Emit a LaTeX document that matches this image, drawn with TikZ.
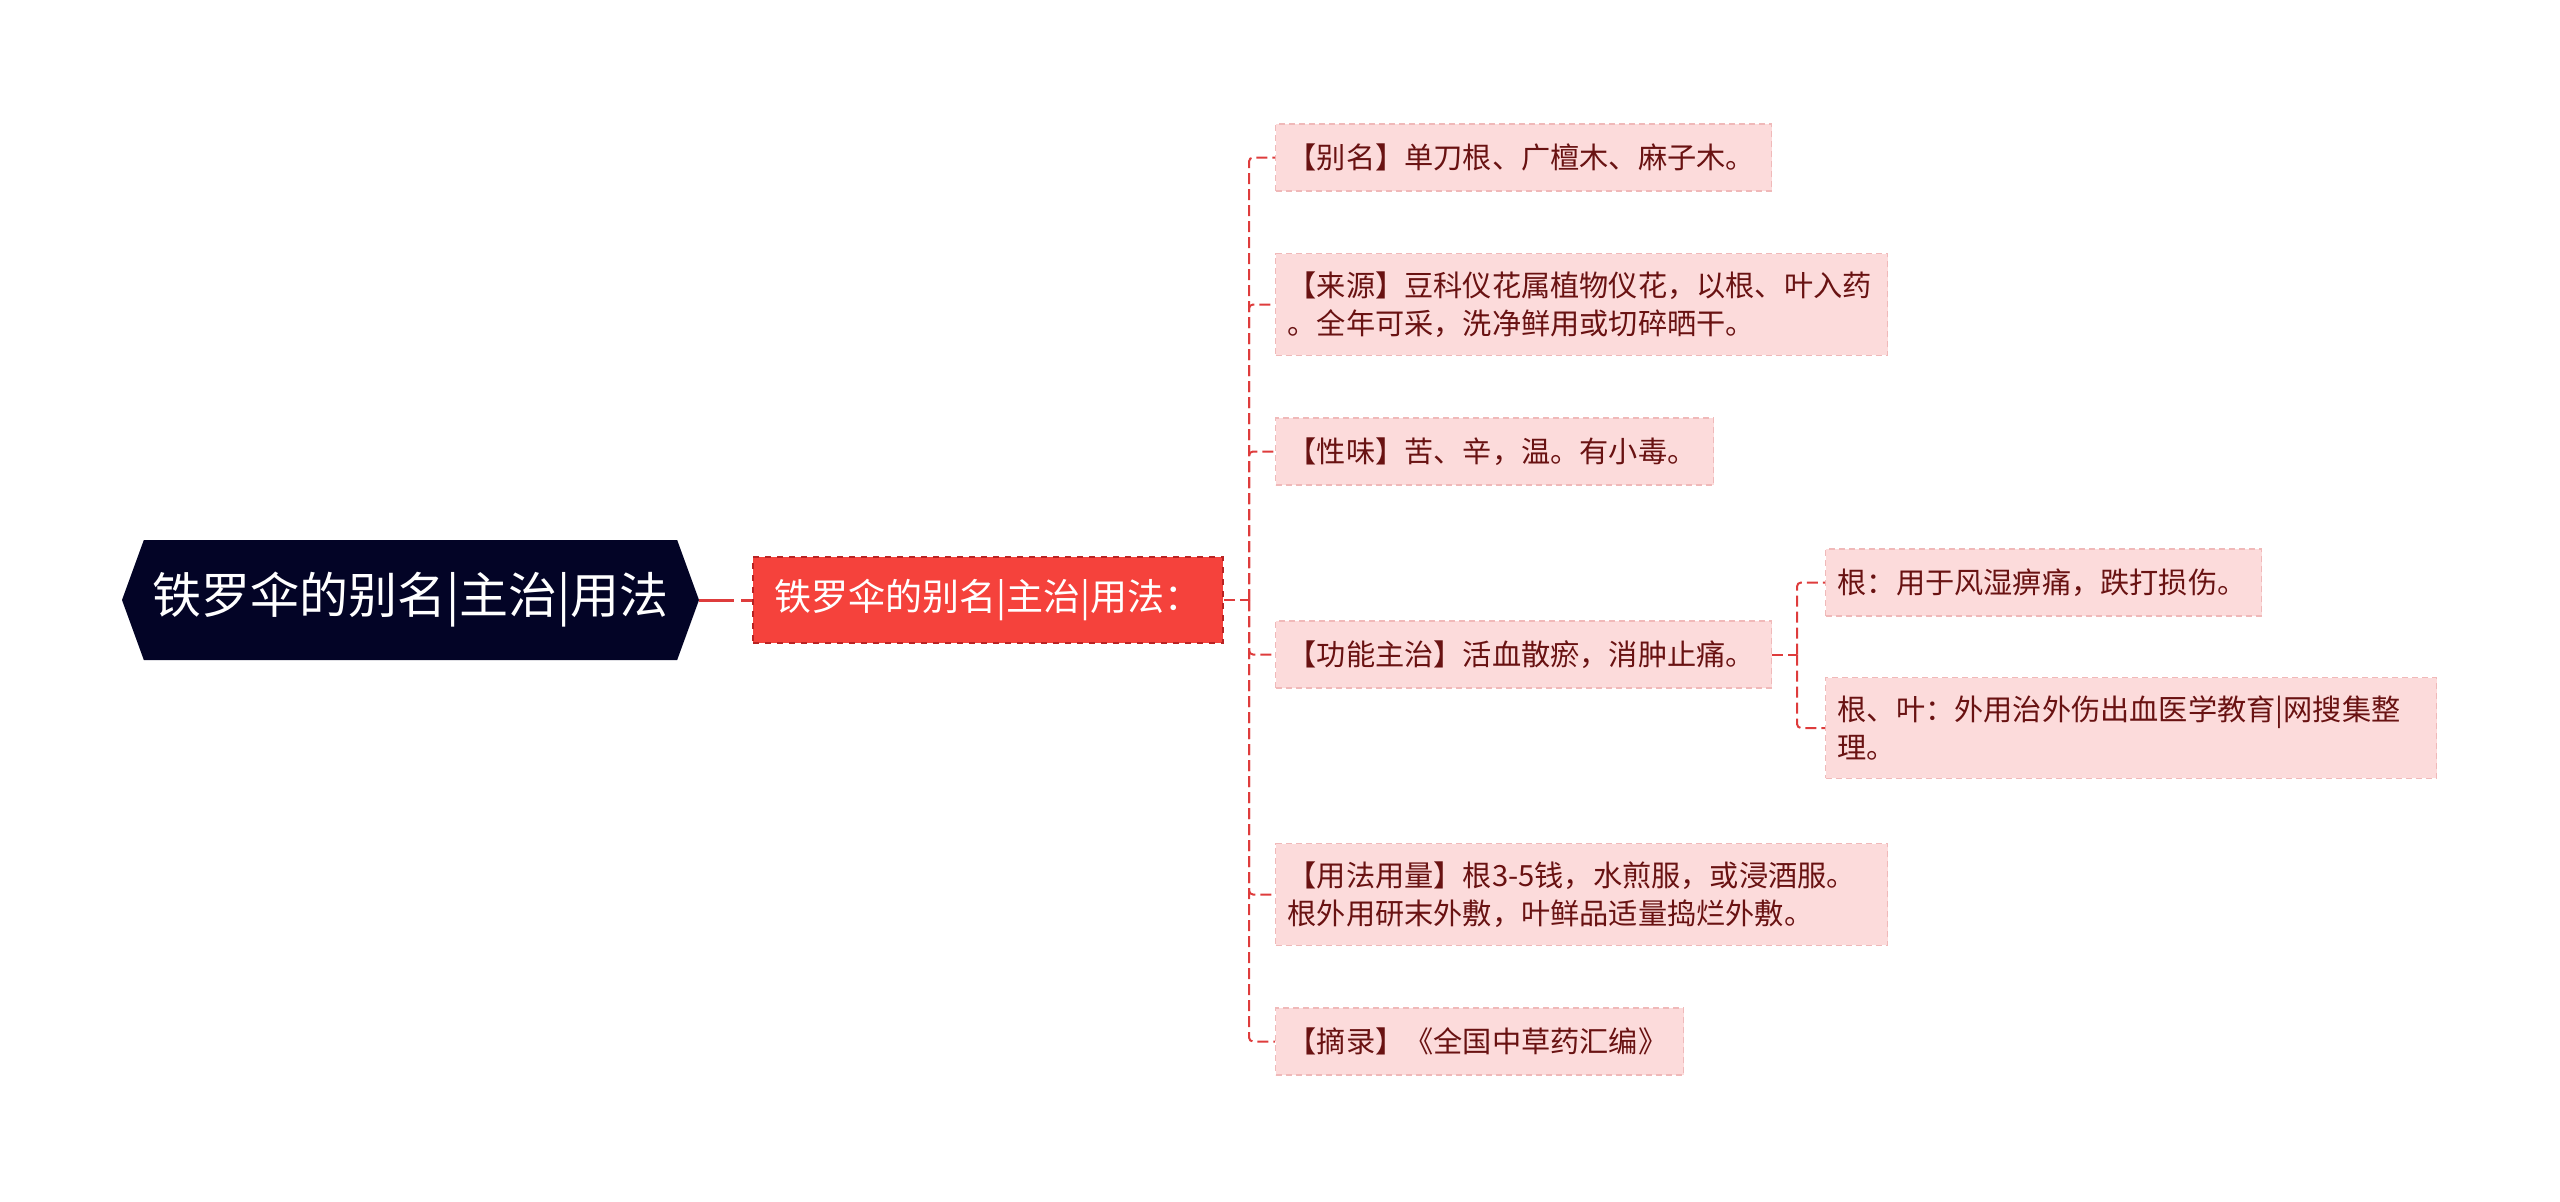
\documentclass[tikz,border=0pt]{standalone}
\usepackage{fontspec}
\setmainfont{Noto Sans CJK SC}
\usepackage{xcolor}
\usetikzlibrary{shapes.symbols, positioning}
\definecolor{rootbg}{RGB}{3,4,38}
\definecolor{topicred}{RGB}{245,66,60}
\definecolor{topicedge}{RGB}{185,35,35}
\definecolor{leafbg}{RGB}{252,219,219}
\definecolor{leafedge}{RGB}{240,185,185}
\definecolor{leaftext}{RGB}{105,18,18}
\definecolor{linkred}{RGB}{222,60,60}

\begin{document}
\begin{tikzpicture}[x=0.5pt, y=-0.5pt,
    rootnode/.style={signal, signal to=west and east, signal pointer angle=140, fill=rootbg, text=white, font=\fontsize{24.5}{28}\selectfont, minimum width=288.5pt, minimum height=60pt, inner sep=0pt},
    topic/.style={rectangle, fill=topicred, draw=topicedge, dashed, line width=0.8pt, text=white, font=\fontsize{18.5}{22}\selectfont, minimum width=235pt, minimum height=43pt, inner sep=0pt},
    leaf/.style={rectangle, anchor=west, fill=leafbg, draw=leafedge, densely dashed, line width=0.7pt, text=leaftext, font=\fontsize{14.6}{19}\selectfont, align=left, inner xsep=6pt, inner ysep=9pt, minimum height=33.5pt},
    branch/.style={draw=linkred, line width=1pt, dash pattern=on 5.5pt off 2.5pt, rounded corners=2pt}]

    \useasboundingbox (0,0) rectangle (2560,1201);

    \node[rootnode] (root) at (410.5,600) {铁罗伞的别名|主治|用法};
    \node[topic] (topic) at (988,600) {铁罗伞的别名|主治|用法：};

    \node[leaf, text width=236pt] (alias) at (1275,157.5) {【别名】单刀根、广檀木、麻子木。};
    \node[leaf, text width=294pt] (source) at (1275,304.5) {【来源】豆科仪花属植物仪花，以根、叶入药\\。全年可采，洗净鲜用或切碎晒干。};
    \node[leaf, text width=207pt] (taste) at (1275,451.5) {【性味】苦、辛，温。有小毒。};
    \node[leaf, text width=236pt] (func) at (1275,654.5) {【功能主治】活血散瘀，消肿止痛。};
    \node[leaf, text width=294pt] (usage) at (1275,894.5) {【用法用量】根3-5钱，水煎服，或浸酒服。\\根外用研末外敷，叶鲜品适量捣烂外敷。};
    \node[leaf, text width=192pt] (excerpt) at (1275,1041.5) {【摘录】《全国中草药汇编》};

    \node[leaf, text width=206pt] (rootuse) at (1825,582.5) {根：用于风湿痹痛，跌打损伤。};
    \node[leaf, text width=293.5pt] (leafuse) at (1825,728) {根、叶：外用治外伤出血医学教育|网搜集整\\理。};

    \draw[draw=linkred, line width=1.5pt, dash pattern=on 17.5pt off 3.5pt] (root.east) -- (topic.west);

    \coordinate (spine) at (1249,600);
    \draw[branch] (topic.east) -- (spine);
    \foreach \n in {alias, source, taste, func, usage, excerpt}
        \draw[branch] (spine) |- (\n.west);

    \coordinate (subspine) at (1797,654.5);
    \draw[branch] (func.east) -- (subspine);
    \foreach \n in {rootuse, leafuse}
        \draw[branch] (subspine) |- (\n.west);
\end{tikzpicture}
\end{document}
